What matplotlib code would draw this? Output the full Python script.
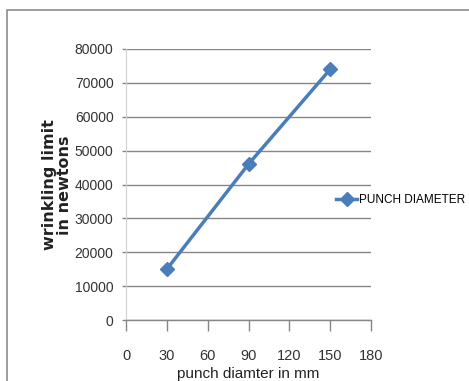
import matplotlib
matplotlib.use('Agg')
from matplotlib import pyplot as plt
from matplotlib.patches import Rectangle

# punch diameter (mm) vs wrinkling limit (N)
diameter = [30, 90, 150]
wrinkling_limit = [15000, 46000, 74000]
x_ticks = [0, 30, 60, 90, 120, 150, 180]
y_ticks = [0, 10000, 20000, 30000, 40000, 50000, 60000, 70000, 80000]
series_name = 'PUNCH DIAMETER'

narrow = ['Liberation Sans', 'DejaVu Sans']
blue = '#4a7ebb'

fig = plt.figure(figsize=(4.69, 3.81), dpi=100)
fig.patch.set_facecolor('white')

# outer chart border, runs off the right and bottom edges
fig.patches.append(Rectangle((7/469, -0.2), 1.2, 1.2 - 10/381, transform=fig.transFigure,
                             fill=False, edgecolor='#8c8c8c', linewidth=1.2))

ax = fig.add_axes([126/469, 61/381, 245/469, 271/381])
ax.plot(diameter, wrinkling_limit, color=blue, linewidth=2.5, marker='D',
        markersize=7, markerfacecolor=blue, markeredgecolor=blue, label=series_name)

ax.set_xlim(0, 180)
ax.set_ylim(0, 80000)
ax.set_xticks(x_ticks)
ax.set_yticks(y_ticks)
ax.set_xticklabels([str(v) for v in x_ticks], family=narrow, fontsize=10.5, color='#333333')
ax.set_yticklabels([str(v) for v in y_ticks], family=narrow, fontsize=10, color='#333333')
ax.tick_params(axis='x', length=8, width=1, color='#868686', pad=13, direction='out')
ax.tick_params(axis='y', length=3, width=1, color='#868686', pad=6, direction='out')

ax.grid(axis='y', color='#868686', linewidth=1)
ax.set_axisbelow(True)
for side in ['top', 'right']:
    ax.spines[side].set_visible(False)
ax.spines['left'].set_color('#d0d0d0')
ax.spines['bottom'].set_color('#868686')
ax.spines['bottom'].set_linewidth(1)

ax.set_xlabel('punch diamter in mm', family=narrow, fontsize=11, color='#222222', labelpad=3)
fig.text(57/469, 1 - 185/381, 'wrinkling limit\nin newtons', rotation=90, ha='center', va='center',
         fontsize=11.5, fontweight='bold', color='#222222', linespacing=0.95)

# legend sits at the right edge of the plot area, level with ~35000
leg = ax.legend(loc='center left', bbox_to_anchor=(336/469, 1 - 200/381),
                bbox_transform=fig.transFigure, frameon=False,
                prop={'family': narrow, 'size': 8.5}, handlelength=1.8, handletextpad=0.15,
                borderaxespad=0, borderpad=0)

fig.savefig('out.png', dpi=100)
